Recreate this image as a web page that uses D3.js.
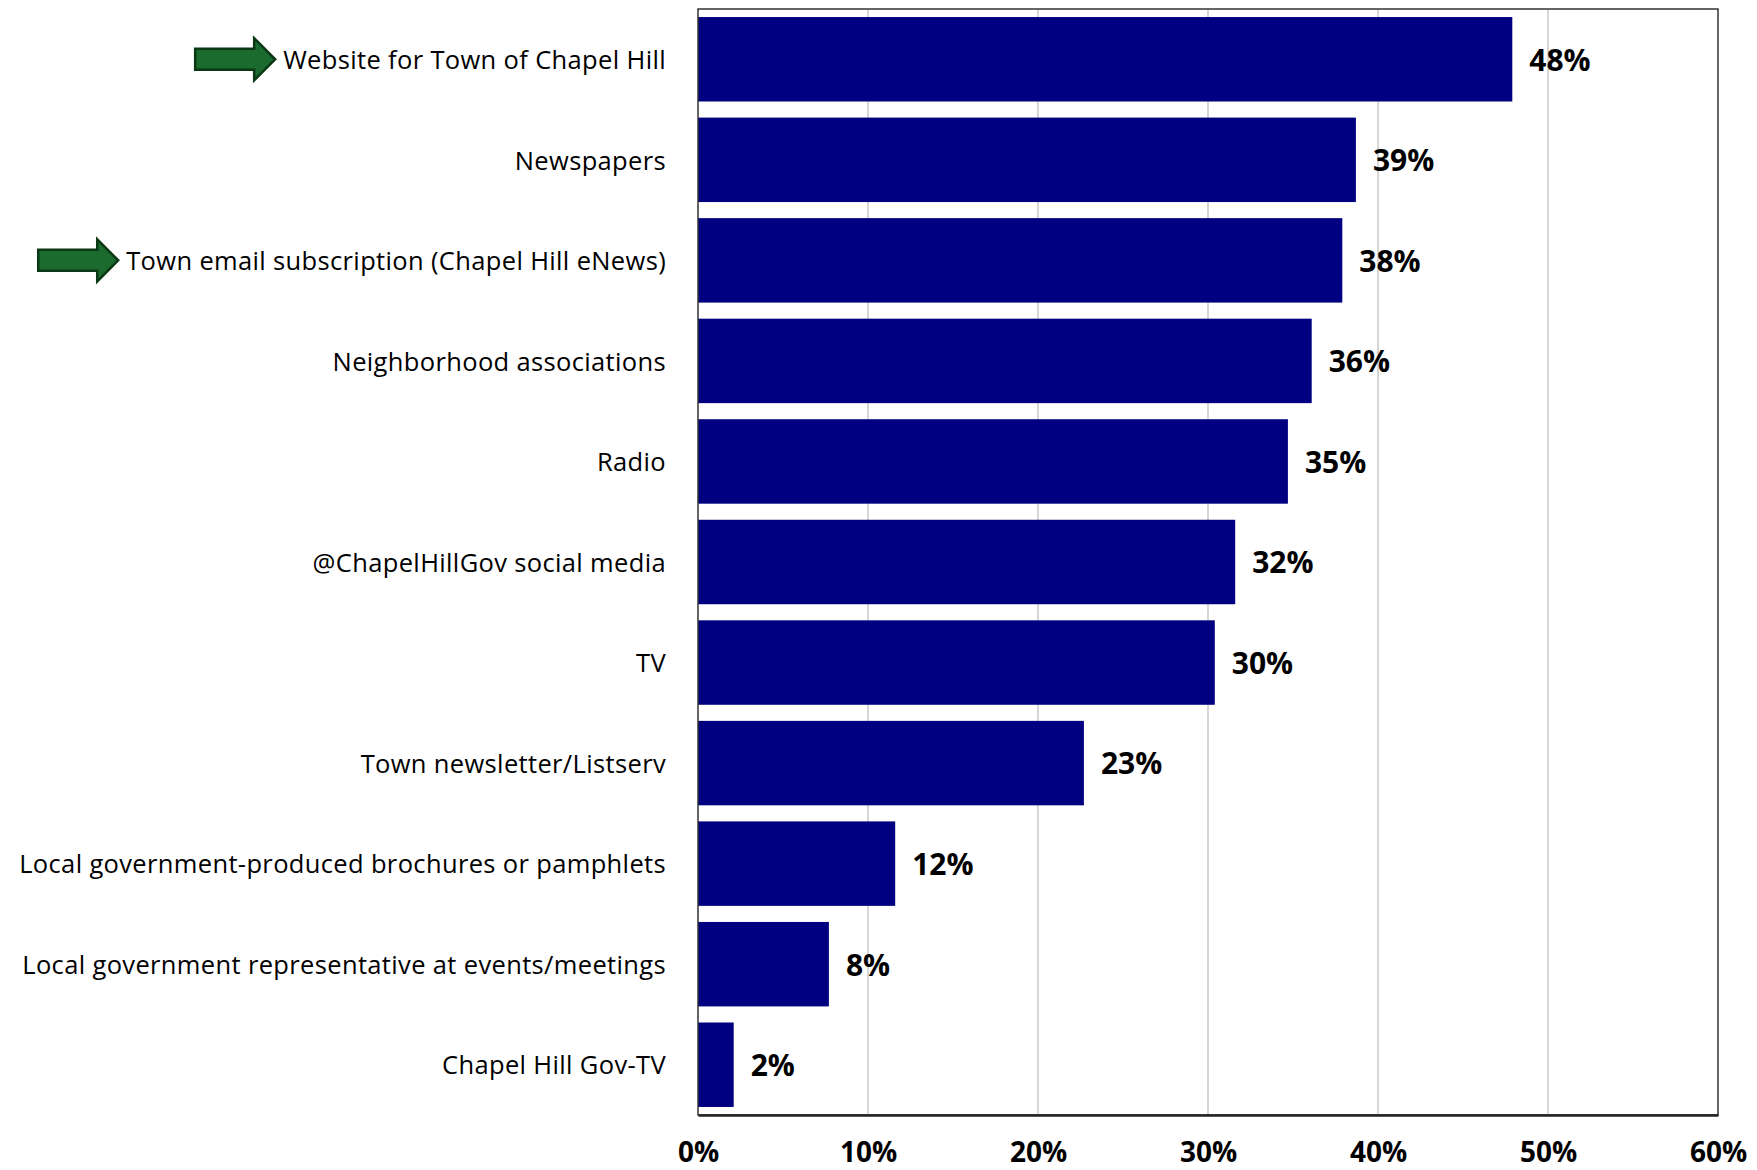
<!DOCTYPE html>
<html>
<head>
<meta charset="utf-8">
<script src="https://cdn.jsdelivr.net/npm/d3@7"></script>
<style>
  html, body { margin: 0; padding: 0; background: #fff; }
  svg { display: block; }
</style>
</head>
<body>
<svg id="chart" width="1757" height="1170"></svg>
<script>
const categories = [
  "Website for Town of Chapel Hill",
  "Newspapers",
  "Town email subscription (Chapel Hill eNews)",
  "Neighborhood associations",
  "Radio",
  "@ChapelHillGov social media",
  "TV",
  "Town newsletter/Listserv",
  "Local government-produced brochures or pamphlets",
  "Local government representative at events/meetings",
  "Chapel Hill Gov-TV"
];
const values = [0.479, 0.387, 0.379, 0.361, 0.347, 0.316, 0.304, 0.227, 0.116, 0.077, 0.021];
const highlighted = ["Website for Town of Chapel Hill", "Town email subscription (Chapel Hill eNews)"];
const tickValues = [0, 0.1, 0.2, 0.3, 0.4, 0.5, 0.6];

const data = categories.map((c, i) => ({ cat: c, val: values[i] }));

const svg = d3.select("#chart");
const margin = { left: 698, right: 39, top: 9, bottom: 55 };
const W = 1757, H = 1170;
const x0 = margin.left, x1 = W - margin.right, y0 = margin.top, y1 = H - margin.bottom;

const x = d3.scaleLinear().domain([0, 0.6]).range([x0, x1]);
const y = d3.scaleBand().domain(categories).range([y0, y1]).paddingInner(0.16).paddingOuter(0.08);

// gridlines
svg.append("g").selectAll("line").data(tickValues.slice(1, -1)).join("line")
  .attr("x1", d => x(d)).attr("x2", d => x(d))
  .attr("y1", y0).attr("y2", y1)
  .attr("stroke", "#c8c8c8").attr("stroke-width", 1.5);

// bars
svg.append("g").selectAll("rect").data(data).join("rect")
  .attr("x", x(0))
  .attr("y", d => y(d.cat))
  .attr("width", d => x(d.val) - x(0))
  .attr("height", y.bandwidth())
  .attr("fill", "#000080");

// frame
svg.append("rect")
  .attr("x", x0).attr("y", y0).attr("width", x1 - x0).attr("height", y1 - y0)
  .attr("fill", "none").attr("stroke", "#333").attr("stroke-width", 1.5);

// x axis
const xAxis = d3.axisBottom(x).tickValues(tickValues).tickFormat(d3.format(".0%")).tickSize(0).tickPadding(27);
const ax = svg.append("g").attr("transform", `translate(0,${y1})`).call(xAxis);
ax.select(".domain").attr("stroke", "#222").attr("stroke-width", 2.5);
ax.selectAll("text")
  .attr("font-family", "'Open Sans', sans-serif")
  .attr("font-weight", "bold")
  .attr("font-size", 28)
  .attr("fill", "#000");

// value labels
svg.append("g").selectAll("text").data(data).join("text")
  .attr("x", d => x(d.val) + 17)
  .attr("y", d => y(d.cat) + y.bandwidth() / 2)
  .attr("dy", "0.38em")
  .attr("font-family", "'Open Sans', sans-serif")
  .attr("font-weight", "bold")
  .attr("font-size", 30)
  .attr("fill", "#000")
  .text(d => d3.format(".0%")(d.val));

// category labels
const labelX = 666;
const labels = svg.append("g").selectAll("text").data(data).join("text")
  .attr("x", labelX)
  .attr("y", d => y(d.cat) + y.bandwidth() / 2)
  .attr("dy", "0.38em")
  .attr("text-anchor", "end")
  .attr("font-family", "'Open Sans', sans-serif")
  .attr("font-size", 25.5)
  .attr("letter-spacing", 0.35)
  .attr("fill", "#000")
  .text(d => d.cat);

// arrows for highlighted categories
labels.each(function(d) {
  if (!highlighted.includes(d.cat)) return;
  const bb = this.getBBox();
  const tip = bb.x - 8;
  const cy = y(d.cat) + y.bandwidth() / 2;
  const len = 80, headLen = 21, headH = 21, shaftH = 10.5;
  const pts = [
    [tip - len, cy - shaftH], [tip - headLen, cy - shaftH], [tip - headLen, cy - headH],
    [tip, cy], [tip - headLen, cy + headH], [tip - headLen, cy + shaftH], [tip - len, cy + shaftH]
  ];
  svg.append("polygon")
    .attr("points", pts.map(p => p.join(",")).join(" "))
    .attr("fill", "#1b6b2f")
    .attr("stroke", "#0a3814")
    .attr("stroke-width", 2.5)
    .attr("stroke-linejoin", "miter");
});
</script>
</body>
</html>
